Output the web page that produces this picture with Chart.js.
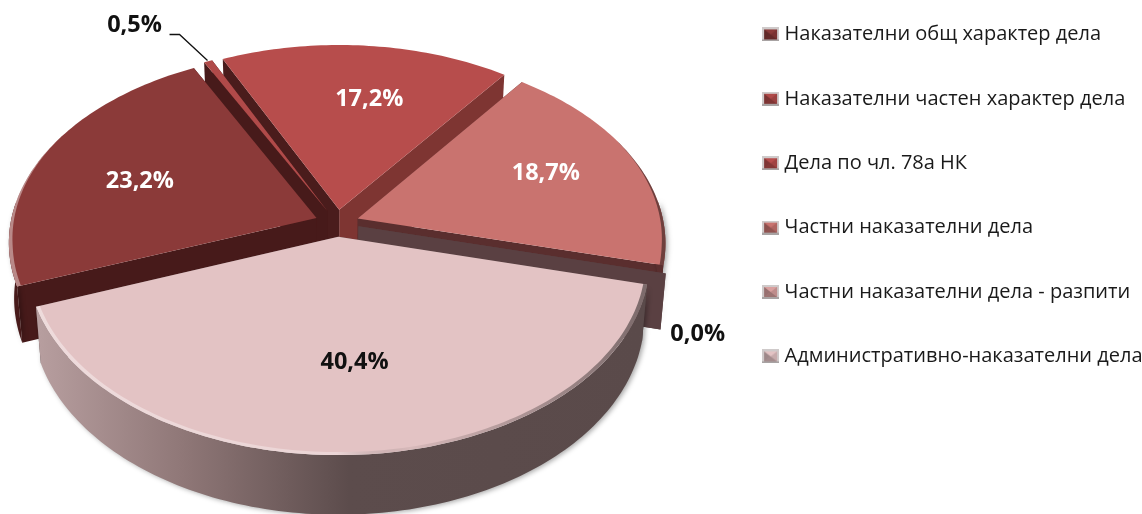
<!DOCTYPE html>
<html>
<head>
<meta charset="utf-8">
<script src="https://cdn.jsdelivr.net/npm/chart.js@4"></script>
<style>
  html, body { margin: 0; padding: 0; background: #fff; overflow: hidden; }
  #wrap { width: 1142px; height: 514px; }
</style>
</head>
<body>
<div id="wrap"><canvas id="chart"></canvas></div>
<script>
const categories = [
    'Наказателни общ характер дела',
    'Наказателни частен характер дела',
    'Дела по чл. 78а НК',
    'Частни наказателни дела',
    'Частни наказателни дела - разпити',
    'Административно-наказателни дела'
];
const values = [23.2, 0.5, 17.2, 18.7, 0.0, 40.4];
const valueLabels = ['23,2%', '0,5%', '17,2%', '18,7%', '0,0%', '40,4%'];

const topColors = ['#8b3a39', '#b04a49', '#b74d4c', '#c9736f', '#d9a09f', '#e3c3c4'];
const wallColors = ['#471a1a', '#471a1a', '#7e3532', '#5a2e2e', '#5a4042', '#5a4a4a'];
const startWallColors = ['#471a1a', '#471a1a', '#4a1c1c', '#5a2e2e', '#5a4042', '#5a4a4a'];
const labelColors = ['#fff', '#111', '#fff', '#fff', '#111', '#111'];
const labelRadius = [0.66, 1, 0.72, 0.66, 1, 0.6];

// проекция на кръга в равнината на екрана
const view = { cx: 337, cy: 223, R: 306, A: 188, p: 0.123, H: 55, shrink: 0.016, gap: 0.072 };
// дребни корекции на етикетите спрямо изчислената точка
const labelNudge = [[5, 7], [0, -2], [10, 11], [4, -5], [32, 61], [5, 2]];

function project(a, r, z, mid) {
    const u = view.gap * Math.cos(mid) + r * Math.cos(a);
    const v = view.gap * Math.sin(mid) + r * Math.sin(a);
    const s = 1 / (1 - view.p * v);
    const zs = 1 - view.shrink * z;
    return {
        x: view.cx + view.R * u * s * zs,
        y: view.cy + view.A * v * s * zs + view.H * s * z
    };
}

function tracePath(ctx, pts) {
    ctx.beginPath();
    pts.forEach((p, i) => i ? ctx.lineTo(p.x, p.y) : ctx.moveTo(p.x, p.y));
}

function poly(ctx, pts, fill) {
    tracePath(ctx, pts);
    ctx.closePath();
    ctx.fillStyle = fill;
    ctx.fill();
}

function rimAngles(start, end) {
    const list = [];
    const n = Math.max(1, Math.ceil((end - start) / 0.02));
    for (let i = 0; i <= n; i++) {
        list.push(start + (end - start) * i / n);
    }
    return list;
}

const pie3d = {
    id: 'pie3d',
    afterLayout(chart) {
        chart.legend.top -= 20;
        chart.legend.bottom -= 20;
        chart.legend.left += 10.5;
        chart.legend.right += 10.5;
    },
    beforeDatasetsDraw(chart) {
        const ctx = chart.ctx;
        const arcs = chart.getDatasetMeta(0).data;
        const order = arcs.map((arc, i) => i)
            .sort((a, b) => Math.sin((arcs[a].startAngle + arcs[a].endAngle) / 2) - Math.sin((arcs[b].startAngle + arcs[b].endAngle) / 2));

        order.forEach(i => {
            const { startAngle, endAngle } = arcs[i];
            const mid = (startAngle + endAngle) / 2;
            const apexTop = project(0, 0, 0, mid);
            const apexLow = project(0, 0, 1, mid);
            const wall = wallColors[i];

            // стени на резена
            poly(ctx, [apexTop, project(endAngle, 1, 0, mid), project(endAngle, 1, 1, mid), apexLow], wall);
            poly(ctx, [apexTop, project(startAngle, 1, 0, mid), project(startAngle, 1, 1, mid), apexLow], startWallColors[i]);

            const angles = rimAngles(startAngle, endAngle);
            const top = angles.map(a => project(a, 1, 0, mid));

            // външна стена, само видимата предна част
            const front = angles.filter(a => Math.sin(a) > -0.1);
            if (front.length > 1) {
                const frontTop = front.map(a => project(a, 1, 0, mid));
                const frontLow = front.map(a => project(a, 1, 1, mid));
                ctx.save();
                ctx.shadowColor = 'rgba(0,0,0,0.35)';
                ctx.shadowBlur = 5;
                ctx.shadowOffsetX = 2;
                ctx.shadowOffsetY = 1;
                let side = wall;
                if (i === 5) {
                    side = ctx.createLinearGradient(view.cx - view.R, 0, view.cx + view.R, 0);
                    side.addColorStop(0, '#b9a0a1');
                    side.addColorStop(0.25, '#8f7777');
                    side.addColorStop(0.52, '#5c4c4c');
                    side.addColorStop(1, '#5a4a4a');
                }
                poly(ctx, frontTop.concat(frontLow.reverse()), side);
                ctx.restore();
            }

            if (endAngle - startAngle < 0.001) return;
            poly(ctx, [apexTop].concat(top), topColors[i]);

            // светъл ръб отляво, тъмен отдясно, стеснен към задната част
            const bevel = ctx.createLinearGradient(view.cx - view.R, 0, view.cx + view.R, 0);
            bevel.addColorStop(0, 'rgba(255,255,255,0.4)');
            bevel.addColorStop(0.5, 'rgba(255,255,255,0.3)');
            bevel.addColorStop(0.62, 'rgba(0,0,0,0.05)');
            bevel.addColorStop(1, 'rgba(0,0,0,0.45)');
            const rim = angles.filter(a => Math.sin(a) > -0.45);
            if (rim.length > 1) {
                const outer = rim.map(a => project(a, 1, 0, mid));
                const inner = rim.map(a => {
                    const t = Math.min(1, (Math.sin(a) + 0.45) / 0.6);
                    return project(a, 1 - 0.012 * t, 0, mid);
                });
                poly(ctx, outer.concat(inner.reverse()), bevel);
            }
        });
        return false;
    },
    afterDraw(chart) {
        const ctx = chart.ctx;
        const arcs = chart.getDatasetMeta(0).data;
        ctx.save();
        ctx.font = 'bold 23.5px "Open Sans"';
        ctx.textAlign = 'center';
        ctx.textBaseline = 'middle';
        arcs.forEach((arc, i) => {
            const mid = (arc.startAngle + arc.endAngle) / 2;
            let p = project(mid, labelRadius[i], 0, mid);
            if (i === 1) {
                // водеща линия към тънкия резен
                const edge = project(mid, 1.005, 0, mid);
                ctx.beginPath();
                ctx.moveTo(edge.x, edge.y);
                ctx.lineTo(edge.x - 28, edge.y - 26);
                ctx.lineTo(edge.x - 38, edge.y - 26);
                ctx.strokeStyle = '#111';
                ctx.lineWidth = 1.3;
                ctx.stroke();
                p = { x: edge.x - 73, y: edge.y - 33 };
            }
            ctx.fillStyle = labelColors[i];
            ctx.fillText(valueLabels[i], p.x + labelNudge[i][0], p.y + labelNudge[i][1]);
        });
        ctx.restore();
    }
};

function swatch(color) {
    const c = document.createElement('canvas');
    c.width = 17;
    c.height = 14;
    const g = c.getContext('2d');
    const tri = (x1, y1, x2, y2, fill) => {
        g.beginPath();
        g.moveTo(x1, y1);
        g.lineTo(x2, y2);
        g.lineTo(8.5, 7);
        g.closePath();
        g.fillStyle = fill;
        g.fill();
    };
    g.fillStyle = '#cfcaca';
    g.fillRect(0, 0, 17, 14);
    g.fillStyle = '#a8a3a3';
    g.fillRect(0, 12, 17, 2);
    g.fillStyle = color;
    g.fillRect(2, 2, 13, 10);
    tri(2, 2, 2, 12, 'rgba(0,0,0,0.3)');
    tri(15, 2, 15, 12, 'rgba(0,0,0,0.12)');
    tri(2, 12, 15, 12, 'rgba(0,0,0,0.28)');
    return c;
}

new Chart(document.getElementById('chart'), {
    type: 'pie',
    data: {
        labels: categories,
        datasets: [{ data: values, backgroundColor: topColors, borderWidth: 0 }]
    },
    options: {
        responsive: true,
        maintainAspectRatio: false,
        animation: false,
        rotation: 249.5,
        plugins: {
            tooltip: { enabled: false },
            legend: {
                position: 'right',
                align: 'start',
                labels: {
                    usePointStyle: true,
                    pointStyleWidth: 8,
                    padding: 44.4,
                    color: '#1a1a1a',
                    font: { family: '"Open Sans"', size: 20 },
                    generateLabels: () => categories.map((text, i) => ({
                        text,
                        pointStyle: swatch(topColors[i]),
                        fontColor: '#1a1a1a',
                        hidden: false,
                        index: i
                    }))
                }
            }
        }
    },
    plugins: [pie3d]
});
</script>
</body>
</html>
